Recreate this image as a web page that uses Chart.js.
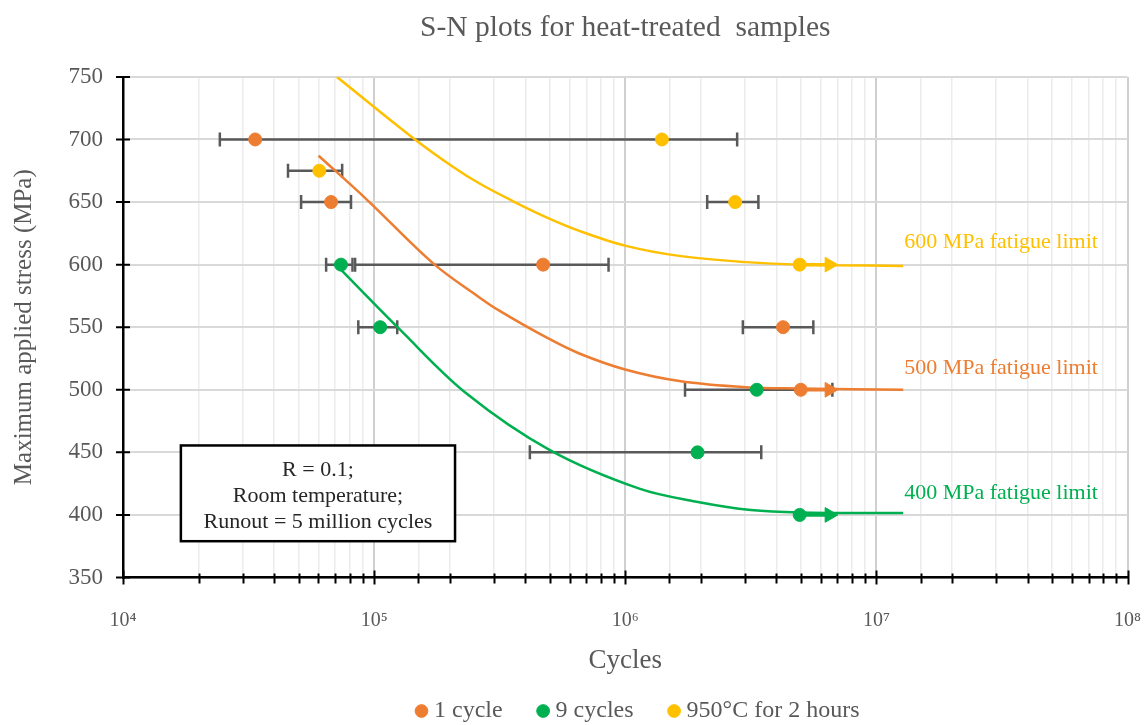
<!DOCTYPE html>
<html>
<head>
<meta charset="utf-8">
<title>S-N plots for heat-treated samples</title>
<script src="https://cdn.jsdelivr.net/npm/chart.js@4.4.1/dist/chart.umd.min.js"></script>
<style>
    html, body { margin: 0; padding: 0; background: #fff; }
    #wrap { width: 1146px; height: 725px; }
</style>
</head>
<body>
<div id="wrap"><canvas id="snChart" width="1146" height="725"></canvas></div>
<script>
// Measured samples: cycles to failure and maximum stress (MPa)
var oneCycleN = [3.36e4, 6.74e4, 4.71e5, 4.25e6, 5.0e6];
var oneCycleS = [700, 650, 600, 550, 500];
var nineCyclesN = [7.38e4, 1.057e5, 1.94e6, 3.34e6, 4.95e6];
var nineCyclesS = [600, 550, 450, 500, 400];
var heatN = [1.40e6, 6.05e4, 2.74e6, 4.95e6];
var heatS = [700, 675, 650, 600];

// Scatter bands: stress level with min / max cycles
var bandS = [700, 675, 650, 650, 600, 600, 550, 550, 500, 450];
var bandLow = [2.43e4, 4.54e4, 5.12e4, 2.12e6, 6.44e4, 8.4e4, 8.65e4, 2.94e6, 1.73e6, 4.17e5];
var bandHigh = [2.79e6, 7.46e4, 8.09e4, 3.39e6, 8.2e4, 8.58e5, 1.236e5, 5.61e6, 6.68e6, 3.48e6];

// Trend curves
var oneFitN = [6.01e4, 9.35e4, 1.718e5, 2.618e5, 3.162e5, 4.831e5, 6.561e5, 1.007e6, 1.641e6, 3.027e6, 4.932e6, 1.279e7];
var oneFitS = [687, 652, 601, 574, 563, 542, 529, 516, 507, 502, 501, 500];
var nineFitN = [7.21e4, 1.268e5, 2.333e5, 4.989e5, 1.138e6, 1.995e6, 3.162e6, 4.932e6, 1.279e7];
var nineFitS = [598, 548, 497, 452, 421, 410, 404, 402, 401.5];
var heatFitN = [7.11e4, 1.455e5, 2.065e5, 2.618e5, 3.548e5, 4.831e5, 6.561e5, 1.007e6, 1.641e6, 3.027e6, 4.932e6, 1.279e7];
var heatFitS = [750, 700, 678, 665, 651, 638, 627, 615, 607, 602, 600, 599];

// Runout (5 million cycles) and fatigue limits
var runoutN = [5.0e6, 6.5e6];
var limitS = [500, 400, 600];
var limitText = ['500 MPa fatigue limit', '400 MPa fatigue limit', '600 MPa fatigue limit'];
var limitLabelN = 1.29e7;

var xTicksMin = 1e4;
var xTicksMax = 1e8;
var noteLines = ['R = 0.1;', 'Room temperature;', 'Runout = 5 million cycles'];

var colOne = '#ED7D31';
var colNine = '#00B050';
var colHeat = '#FFC000';
var colBar = '#595959';
var seriesColors = [colOne, colNine, colHeat];
var serif = "'Liberation Serif', 'Times New Roman', serif";

function pts(xs, ys) {
    return xs.map(function(x, i) { return {x: x, y: ys[i]}; });
}

function isDecade(v) {
    var l = Math.log10(v);
    return Math.abs(l - Math.round(l)) < 1e-9;
}

var supDigits = {'0': '⁰', '1': '¹', '2': '²', '3': '³', '4': '⁴', '5': '⁵', '6': '⁶', '7': '⁷', '8': '⁸', '9': '⁹'};
function powLabel(v) {
    var e = String(Math.round(Math.log10(v)));
    return '10' + e.split('').map(function(c) { return supDigits[c]; }).join('');
}

var datasets = [];

// sample points (shown in legend)
[['1 cycle', oneCycleN, oneCycleS, colOne],
 ['9 cycles', nineCyclesN, nineCyclesS, colNine],
 ['950°C for 2 hours', heatN, heatS, colHeat]].forEach(function(s) {
    datasets.push({
        label: s[0],
        data: pts(s[1], s[2]),
        showLine: false,
        backgroundColor: s[3],
        borderColor: s[3],
        borderWidth: 1,
        pointRadius: 6.5,
        pointStyle: 'circle',
        inLegend: true,
        order: 0
    });
});

// trend curves
[[oneFitN, oneFitS, colOne], [nineFitN, nineFitS, colNine], [heatFitN, heatFitS, colHeat]].forEach(function(s) {
    datasets.push({
        data: pts(s[0], s[1]),
        showLine: true,
        borderColor: s[2],
        borderWidth: 2.5,
        pointRadius: 0,
        tension: 0.35,
        fill: false,
        order: 1
    });
});

// runout arrows
limitS.forEach(function(lim, i) {
    datasets.push({
        data: runoutN.map(function(n) { return {x: n, y: lim}; }),
        showLine: true,
        borderColor: seriesColors[i],
        borderWidth: 3.5,
        pointRadius: [0, 8.5],
        pointStyle: 'triangle',
        pointRotation: 90,
        pointBackgroundColor: seriesColors[i],
        pointBorderColor: seriesColors[i],
        pointBorderWidth: 1,
        order: 1
    });
});

// scatter bands as capped bars
bandS.forEach(function(s, i) {
    datasets.push({
        data: [{x: bandLow[i], y: s}, {x: bandHigh[i], y: s}],
        showLine: true,
        borderColor: colBar,
        borderWidth: 2.5,
        pointStyle: 'line',
        pointRotation: 90,
        pointRadius: 7,
        pointBorderColor: colBar,
        pointBorderWidth: 2.5,
        order: 2
    });
});

// tick marks crossing both axes
var crossTicks = {
    id: 'crossTicks',
    afterDraw: function(chart) {
        var ctx = chart.ctx, xs = chart.scales.x, ys = chart.scales.y;
        var area = chart.chartArea;
        ctx.save();
        ctx.strokeStyle = '#000';
        ctx.lineWidth = 2;
        ctx.beginPath();
        xs.ticks.forEach(function(t) {
            var px = Math.round(xs.getPixelForValue(t.value)) + 0.5;
            var major = isDecade(t.value);
            ctx.moveTo(px, area.bottom - (major ? 7 : 4));
            ctx.lineTo(px, area.bottom + (major ? 7 : 6));
        });
        ys.ticks.forEach(function(t) {
            var py = ys.getPixelForValue(t.value);
            ctx.moveTo(area.left - 7, py);
            ctx.lineTo(area.left + 7, py);
        });
        ctx.stroke();
        ctx.restore();
    }
};

// legend row sits a little right of the plot centre
var legendNudge = {
    id: 'legendNudge',
    afterLayout: function(chart) {
        if (chart.legend) {
            chart.legend.left += 15;
            chart.legend.right += 15;
        }
    }
};

// test conditions box
var conditionsBox = {
    id: 'conditionsBox',
    afterDatasetsDraw: function(chart) {
        var ctx = chart.ctx, xs = chart.scales.x, ys = chart.scales.y;
        var x1 = xs.getPixelForValue(1.7e4), x2 = xs.getPixelForValue(2.1e5);
        var y1 = ys.getPixelForValue(455.5), y2 = ys.getPixelForValue(379);
        ctx.save();
        ctx.fillStyle = '#fff';
        ctx.fillRect(x1, y1, x2 - x1, y2 - y1);
        ctx.strokeStyle = '#000';
        ctx.lineWidth = 2.5;
        ctx.strokeRect(x1, y1, x2 - x1, y2 - y1);
        ctx.fillStyle = '#262626';
        ctx.font = '22px ' + serif;
        ctx.textAlign = 'center';
        ctx.textBaseline = 'middle';
        noteLines.forEach(function(line, i) {
            ctx.fillText(line, (x1 + x2) / 2, y1 + 25 + i * 26);
        });
        ctx.restore();
    }
};

// fatigue limit captions at the right end of each curve
var limitCaptions = {
    id: 'limitCaptions',
    afterDatasetsDraw: function(chart) {
        var ctx = chart.ctx, xs = chart.scales.x, ys = chart.scales.y;
        ctx.save();
        ctx.font = '22px ' + serif;
        ctx.textAlign = 'left';
        ctx.textBaseline = 'middle';
        limitS.forEach(function(lim, i) {
            ctx.fillStyle = seriesColors[i];
            ctx.fillText(limitText[i], xs.getPixelForValue(limitLabelN), ys.getPixelForValue(lim) - 22);
        });
        ctx.restore();
    }
};

var ctx = document.getElementById('snChart').getContext('2d');
var snChart = new Chart(ctx, {
    type: 'scatter',
    data: { datasets: datasets },
    options: {
        responsive: false,
        animation: false,
        devicePixelRatio: 1,
        events: [],
        layout: { padding: { left: 0, right: 18.5, top: 0, bottom: -8 } },
        plugins: {
            title: {
                display: true,
                text: 'S-N plots for heat-treated  samples',
                color: '#595959',
                font: { family: serif, size: 29.5, weight: 'normal' },
                padding: { top: 11, bottom: 30.5 },
                fullSize: false
            },
            legend: {
                position: 'bottom',
                fullSize: false,
                labels: {
                    usePointStyle: true,
                    boxWidth: 1,
                    boxHeight: 9,
                    padding: 40,
                    color: '#595959',
                    font: { family: serif, size: 24 },
                    filter: function(item, data) {
                        return !!data.datasets[item.datasetIndex].inLegend;
                    }
                }
            },
            tooltip: { enabled: false }
        },
        scales: {
            x: {
                type: 'logarithmic',
                min: xTicksMin,
                max: xTicksMax,
                afterFit: function(scale) { scale.height = 81.5; },
                border: { display: true, color: '#000', width: 2.5 },
                grid: {
                    drawTicks: true,
                    tickLength: 28,
                    tickColor: 'rgba(0,0,0,0)',
                    color: function(c) { return c.tick && isDecade(c.tick.value) ? '#d0d0d0' : '#ececec'; },
                    lineWidth: function(c) { return c.tick && isDecade(c.tick.value) ? 2 : 1.5; }
                },
                ticks: {
                    autoSkip: false,
                    maxRotation: 0,
                    padding: 3,
                    color: '#595959',
                    font: { family: serif, size: 20 },
                    callback: function(value) { return isDecade(value) ? powLabel(value) : ''; }
                },
                title: {
                    display: true,
                    text: 'Cycles',
                    color: '#595959',
                    font: { family: serif, size: 27 },
                    padding: { top: 0, bottom: -18 }
                }
            },
            y: {
                min: 350,
                max: 750,
                afterFit: function(scale) { scale.width = 123; },
                border: { display: true, color: '#000', width: 2.5 },
                grid: { drawTicks: false, color: '#d9d9d9', lineWidth: 2 },
                ticks: {
                    stepSize: 50,
                    padding: 20,
                    color: '#595959',
                    font: { family: serif, size: 23 }
                },
                title: {
                    display: true,
                    text: 'Maximum applied stress (MPa)',
                    color: '#595959',
                    font: { family: serif, size: 25 },
                    padding: { top: 9, bottom: 0 }
                }
            }
        }
    },
    plugins: [crossTicks, legendNudge, conditionsBox, limitCaptions]
});
</script>
</body>
</html>
